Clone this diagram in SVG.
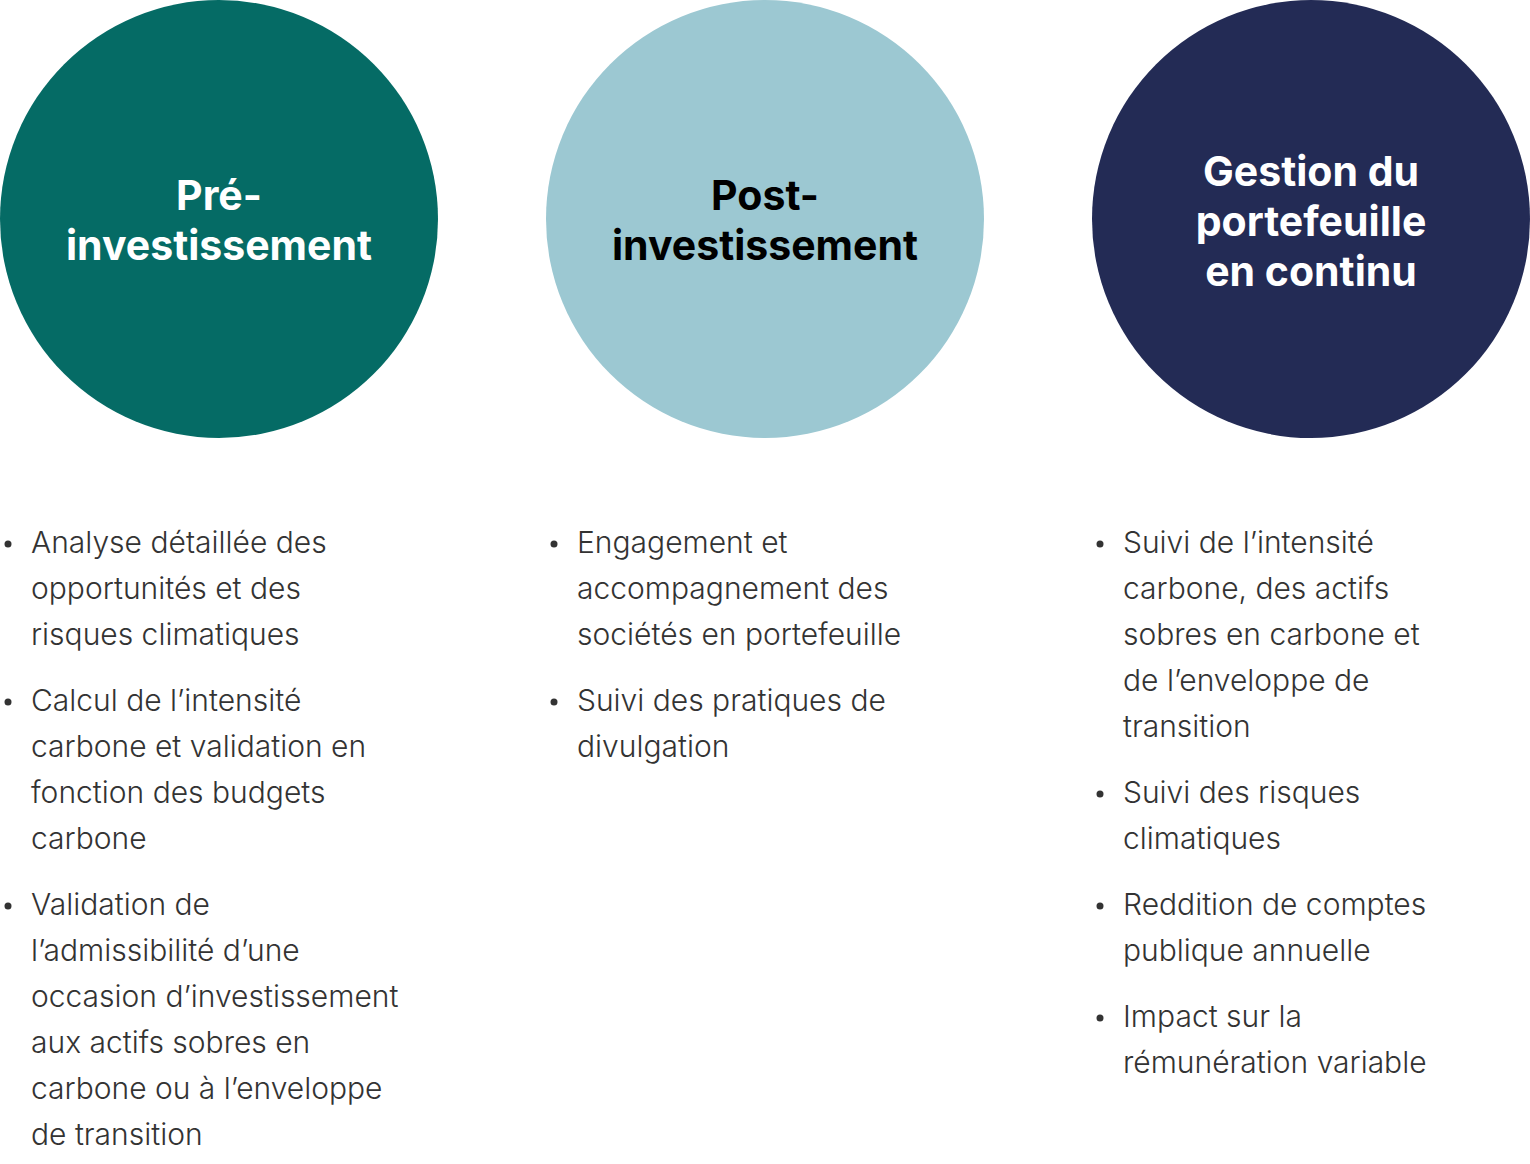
<svg xmlns="http://www.w3.org/2000/svg" width="1530" height="1164" viewBox="0 0 1530 1164">
<style>
.t{font-family:Inter,"Liberation Sans",sans-serif;font-weight:700;font-size:41px;text-anchor:middle}
.b{font-family:Inter,"Liberation Sans",sans-serif;font-weight:300;font-size:30px;fill:#333}
.d{fill:#333}
</style>
<rect width="1530" height="1164" fill="#fff"/>
<g id="pre">
<circle cx="219" cy="219" r="219" fill="#056B65"/>
<text class="t" fill="#fff"><tspan x="219" y="210">Pré-</tspan><tspan x="219" y="260">investissement</tspan></text>
</g>
<g id="post">
<circle cx="765" cy="219" r="219" fill="#9CC8D2"/>
<text class="t" fill="#000"><tspan x="765" y="210">Post-</tspan><tspan x="765" y="260">investissement</tspan></text>
</g>
<g id="gestion">
<circle cx="1311" cy="219" r="219" fill="#232B55"/>
<text class="t" fill="#fff"><tspan x="1311" y="186">Gestion du</tspan><tspan x="1311" y="236">portefeuille</tspan><tspan x="1311" y="286">en continu</tspan></text>
</g>
<g id="connectors"></g>
<g id="list-pre">
<circle class="d" cx="8" cy="544" r="3.5"/><circle class="d" cx="8" cy="702" r="3.5"/><circle class="d" cx="8" cy="906" r="3.5"/>
<text class="b"><tspan x="31" y="553">Analyse détaillée des</tspan><tspan x="31" y="599">opportunités et des</tspan><tspan x="31" y="645">risques climatiques</tspan>
<tspan x="31" y="711">Calcul de l’intensité</tspan><tspan x="31" y="757">carbone et validation en</tspan><tspan x="31" y="803">fonction des budgets</tspan><tspan x="31" y="849">carbone</tspan>
<tspan x="31" y="915">Validation de</tspan><tspan x="31" y="961">l’admissibilité d’une</tspan><tspan x="31" y="1007">occasion d’investissement</tspan><tspan x="31" y="1053">aux actifs sobres en</tspan><tspan x="31" y="1099">carbone ou à l’enveloppe</tspan><tspan x="31" y="1145">de transition</tspan></text>
</g>
<g id="list-post">
<circle class="d" cx="554" cy="544" r="3.5"/><circle class="d" cx="554" cy="702" r="3.5"/>
<text class="b"><tspan x="577" y="553">Engagement et</tspan><tspan x="577" y="599">accompagnement des</tspan><tspan x="577" y="645">sociétés en portefeuille</tspan>
<tspan x="577" y="711">Suivi des pratiques de</tspan><tspan x="577" y="757">divulgation</tspan></text>
</g>
<g id="list-gestion">
<circle class="d" cx="1100" cy="544" r="3.5"/><circle class="d" cx="1100" cy="794" r="3.5"/><circle class="d" cx="1100" cy="906" r="3.5"/><circle class="d" cx="1100" cy="1018" r="3.5"/>
<text class="b"><tspan x="1123" y="553">Suivi de l’intensité</tspan><tspan x="1123" y="599">carbone, des actifs</tspan><tspan x="1123" y="645">sobres en carbone et</tspan><tspan x="1123" y="691">de l’enveloppe de</tspan><tspan x="1123" y="737">transition</tspan>
<tspan x="1123" y="803">Suivi des risques</tspan><tspan x="1123" y="849">climatiques</tspan>
<tspan x="1123" y="915">Reddition de comptes</tspan><tspan x="1123" y="961">publique annuelle</tspan>
<tspan x="1123" y="1027">Impact sur la</tspan><tspan x="1123" y="1073">rémunération variable</tspan></text>
</g>
</svg>
